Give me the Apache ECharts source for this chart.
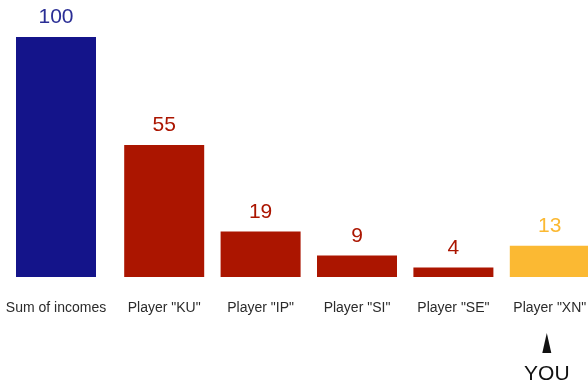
<!DOCTYPE html>
<html>
<head>
<meta charset="utf-8">
<script src="https://cdn.jsdelivr.net/npm/echarts@6/dist/echarts.min.js"></script>
<style>
  html, body { margin: 0; padding: 0; background: #fff; }
  #chart { width: 588px; height: 388px; }
</style>
</head>
<body>
<div id="chart"></div>
<script>
var totalNames = ['Sum of incomes'];
var totalValues = [100];
var players = ['Player "KU"', 'Player "IP"', 'Player "SI"', 'Player "SE"', 'Player "XN"'];
var playerValues = [55, 19, 9, 4, 13];
var youPlayer = 'Player "XN"';

var blue = '#14148a';
var red = '#ab1500';
var yellow = '#fbb933';
var font = 'Liberation Sans, Arial, sans-serif';

var myChart = echarts.init(document.getElementById('chart'));

function playerColor(name) {
    return name === youPlayer ? yellow : red;
}

var axisCommon = {
    type: 'category',
    axisLine: {show: false},
    axisTick: {show: false},
    axisLabel: {
        interval: 0,
        hideOverlap: false,
        color: '#2b2b2b',
        fontSize: 14,
        fontFamily: font,
        margin: 24
    }
};

var yCommon = {
    type: 'value',
    min: 0,
    max: 100,
    show: false
};

var option = {
    animation: false,
    grid: [
        {left: 8, width: 96, top: 37, bottom: 111, outerBoundsMode: 'none'},
        {left: 116, width: 482, top: 37, bottom: 111, outerBoundsMode: 'none'}
    ],
    xAxis: [
        Object.assign({gridIndex: 0, data: totalNames}, axisCommon),
        Object.assign({gridIndex: 1, data: players}, axisCommon)
    ],
    yAxis: [
        Object.assign({gridIndex: 0}, yCommon),
        Object.assign({gridIndex: 1}, yCommon)
    ],
    series: [
        {
            type: 'bar',
            xAxisIndex: 0,
            yAxisIndex: 0,
            barWidth: 80,
            data: totalValues,
            itemStyle: {color: blue},
            label: {
                show: true,
                position: 'top',
                distance: 9,
                color: '#2a2e95',
                fontSize: 21,
                fontFamily: font
            }
        },
        {
            type: 'bar',
            xAxisIndex: 1,
            yAxisIndex: 1,
            barWidth: 80,
            data: playerValues.map(function (v, i) {
                var c = playerColor(players[i]);
                return {
                    value: v,
                    itemStyle: {color: c},
                    label: {color: c}
                };
            }),
            label: {
                show: true,
                position: 'top',
                distance: 9,
                fontSize: 21,
                fontFamily: font
            }
        }
    ]
};

myChart.setOption(option);

// pointer under "you"
var px = myChart.convertToPixel({xAxisIndex: 1}, youPlayer) - 3;
myChart.setOption({
    graphic: [
        {
            type: 'polygon',
            shape: {points: [[px, 333], [px - 4.5, 353], [px + 4.5, 353]]},
            style: {fill: '#111'}
        },
        {
            type: 'text',
            x: px,
            y: 374,
            style: {
                text: 'YOU',
                fill: '#111',
                fontSize: 21,
                fontFamily: font,
                align: 'center',
                verticalAlign: 'middle'
            }
        }
    ]
});
</script>
</body>
</html>
